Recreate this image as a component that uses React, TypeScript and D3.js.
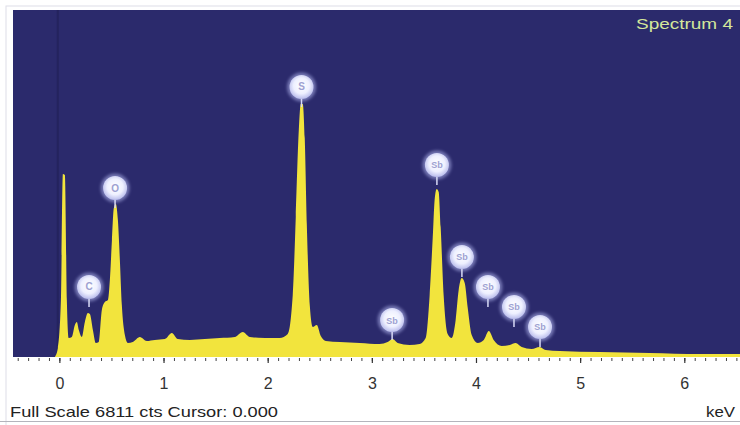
import React from "react";
import * as d3 from "d3";

// Spectrum samples: energy (keV) and counts
const energies: number[] = [
  -0.048, -0.019, 0.01, 0.029, 0.048, 0.067, 0.086, 0.115, 0.144, 0.163, 0.182, 0.211,
  0.24, 0.269, 0.288, 0.317, 0.345, 0.374, 0.403, 0.432, 0.461, 0.48, 0.5, 0.518,
  0.537, 0.557, 0.576, 0.595, 0.624, 0.653, 0.7, 0.768, 0.835, 0.912, 1.008, 1.075,
  1.132, 1.248, 1.392, 1.536, 1.68, 1.756, 1.824, 1.968, 2.111, 2.188, 2.236, 2.265,
  2.294, 2.313, 2.332, 2.351, 2.371, 2.4, 2.428, 2.466, 2.505, 2.553, 2.687, 2.879,
  3.07, 3.147, 3.195, 3.243, 3.358, 3.454, 3.512, 3.55, 3.58, 3.598, 3.618, 3.637,
  3.656, 3.685, 3.723, 3.762, 3.8, 3.829, 3.858, 3.887, 3.916, 3.954, 4.012, 4.07,
  4.118, 4.165, 4.242, 4.319, 4.376, 4.434, 4.53, 4.606, 4.664, 4.798, 5.182, 5.662,
  6.142, 6.53,
];
const counts: number[] = [
  0, 177, 1119, 3592, 3573, 1119, 373, 393, 628, 687, 530, 393,
  687, 864, 844, 530, 275, 294, 923, 1080, 1119, 1511, 2296, 2925,
  3003, 2689, 1904, 1021, 432, 275, 294, 393, 314, 334, 353, 471,
  353, 334, 353, 373, 393, 491, 393, 373, 373, 451, 1220, 2750,
  4456, 4966, 4966, 4300, 2600, 1000, 589, 628, 412, 314, 294, 275,
  255, 294, 353, 275, 236, 255, 373, 1200, 2350, 3082, 3298, 3239,
  2550, 1200, 451, 373, 726, 1315, 1551, 1453, 960, 432, 275, 334,
  510, 334, 216, 236, 275, 196, 157, 196, 137, 118, 98, 79,
  59, 59,
];

// Element markers
const markerLabels: string[] = ["C", "O", "S", "Sb", "Sb", "Sb", "Sb", "Sb", "Sb"];
const markerEnergies: number[] = [0.28, 0.53, 2.32, 3.19, 3.62, 3.86, 4.11, 4.36, 4.61];
const markerLevels: number[] = [1374, 3317, 5300, 726, 3769, 1963, 1374, 982, 589];

const majorTicks: number[] = [0, 1, 2, 3, 4, 5, 6];
const fullScale = 6811;
const title = "Spectrum 4";
const footer = "Full Scale 6811 cts Cursor: 0.000";
const unit = "keV";

const W = 740;
const H = 425;
const plot = { left: 13, right: 740, top: 10, bottom: 357 };

export default function App() {
  const x = d3.scaleLinear().domain([-0.45, 6.53]).range([plot.left, plot.right]);
  const y = d3.scaleLinear().domain([0, fullScale]).range([plot.bottom, plot.top]);

  const data = energies.map((e, i) => ({ e, c: counts[i] }));
  const area = d3
    .area<{ e: number; c: number }>()
    .x((d) => x(d.e))
    .y0(y(0))
    .y1((d) => y(d.c))
    .curve(d3.curveMonotoneX);

  const minorTicks = d3.range(-4, 66).map((i) => i / 10);
  const font = "'Liberation Sans', Arial, sans-serif";

  return (
    <svg
      width={W}
      height={H}
      style={{ position: "absolute", left: 0, top: 0, background: "#ffffff" }}
    >
      <defs>
        <radialGradient id="mk" cx="50%" cy="45%" r="55%">
          <stop offset="0%" stopColor="#ffffff" />
          <stop offset="60%" stopColor="#eef0ff" />
          <stop offset="100%" stopColor="#b9bcec" />
        </radialGradient>
        <filter id="soft" x="-50%" y="-50%" width="200%" height="200%">
          <feGaussianBlur stdDeviation="1.8" />
        </filter>
        <filter id="blur1" x="-20%" y="-20%" width="140%" height="140%">
          <feGaussianBlur stdDeviation="0.5" />
        </filter>
        <clipPath id="plotClip">
          <rect x={plot.left} y={plot.top} width={plot.right - plot.left} height={plot.bottom - plot.top} />
        </clipPath>
      </defs>

      {/* window frame */}
      <rect x={6} y={6} width={W} height={H} fill="none" stroke="#dedee8" strokeWidth={1} />

      {/* plot background */}
      <rect
        x={plot.left}
        y={plot.top}
        width={plot.right - plot.left}
        height={plot.bottom - plot.top}
        fill="#2b2a6c"
      />
      <line x1={x(-0.02)} x2={x(-0.02)} y1={plot.top} y2={plot.bottom} stroke="#24235e" strokeWidth={2} />

      {/* spectrum */}
      <g clipPath="url(#plotClip)" filter="url(#blur1)">
        <path d={area(data) ?? ""} fill="#f2e43c" />
      </g>

      {/* element markers */}
      {markerLabels.map((lab, i) => {
        const cx = x(markerEnergies[i]);
        const cy = y(markerLevels[i]);
        const r = 12;
        return (
          <g key={i}>
            <circle cx={cx} cy={cy} r={r + 2.5} fill="#aeb2ea" opacity={0.55} filter="url(#soft)" />
            <line x1={cx} x2={cx} y1={cy + r} y2={cy + r + 8} stroke="#d8daf6" strokeWidth={1.5} />
            <circle cx={cx} cy={cy} r={r} fill="url(#mk)" />
            <text
              x={cx}
              y={cy + 3.5}
              textAnchor="middle"
              fontFamily={font}
              fontSize={lab.length > 1 ? 9 : 10}
              fontWeight="bold"
              fill="#9da1d2"
            >
              {lab}
            </text>
          </g>
        );
      })}

      {/* title */}
      <text
        x={636}
        y={29}
        fontFamily={font}
        fontSize={15}
        fill="#d3e79b"
        textLength={97}
        lengthAdjust="spacingAndGlyphs"
      >
        {title}
      </text>

      {/* energy axis */}
      {minorTicks.map((t) => (
        <line
          key={t}
          x1={x(t)}
          x2={x(t)}
          y1={plot.bottom + 1}
          y2={plot.bottom + 4}
          stroke="#444"
          strokeWidth={1}
        />
      ))}
      {majorTicks.map((t) => (
        <g key={"M" + t}>
          <line x1={x(t)} x2={x(t)} y1={plot.bottom + 1} y2={plot.bottom + 6} stroke="#333" strokeWidth={1.2} />
          <text x={x(t)} y={389} textAnchor="middle" fontFamily={font} fontSize={16} fill="#333">
            {t}
          </text>
        </g>
      ))}

      {/* status line */}
      <text
        x={10}
        y={417}
        fontFamily={font}
        fontSize={15}
        fill="#222"
        textLength={268}
        lengthAdjust="spacingAndGlyphs"
      >
        {footer}
      </text>
      <text
        x={706}
        y={417}
        fontFamily={font}
        fontSize={15}
        fill="#222"
        textLength={29}
        lengthAdjust="spacingAndGlyphs"
      >
        {unit}
      </text>
      <line x1={0} x2={W} y1={421.5} y2={421.5} stroke="#b4b4bc" strokeWidth={1} />
    </svg>
  );
}
